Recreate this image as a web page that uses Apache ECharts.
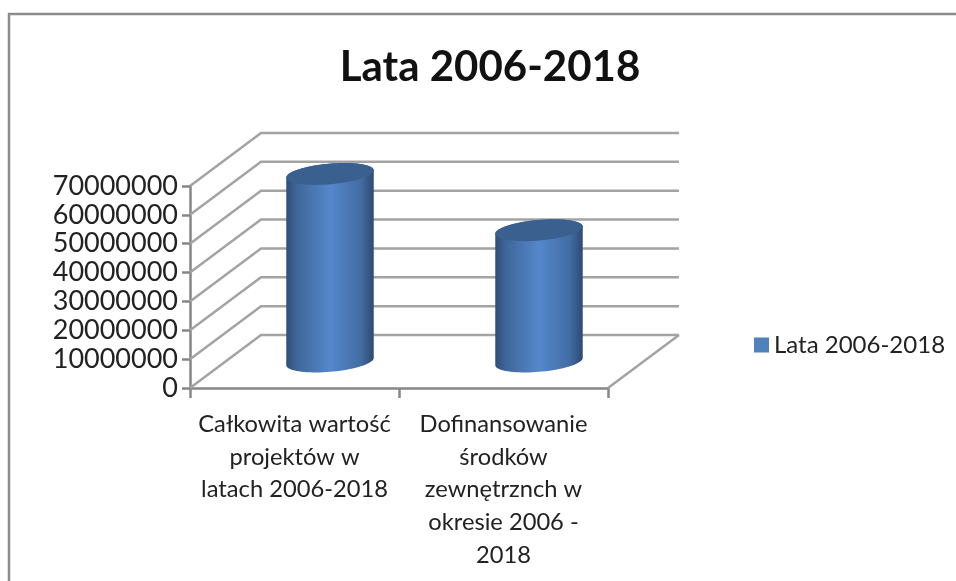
<!DOCTYPE html>
<html>
<head>
<meta charset="utf-8">
<title>Lata 2006-2018</title>
<script src="https://cdn.jsdelivr.net/npm/echarts@6/dist/echarts.min.js"></script>
<style>
html, body { margin: 0; padding: 0; background: #fff; }
#main { width: 956px; height: 581px; }
</style>
</head>
<body>
<div id="main"></div>
<script>
var titleText = 'Lata 2006-2018';
var seriesName = 'Lata 2006-2018';
var categories = [
    'Całkowita wartość\nprojektów w\nlatach 2006-2018',
    'Dofinansowanie\nśrodków\nzewnętrznch w\nokresie 2006 -\n2018'
];
var values = [65000000, 45500000];
var yTicks = [0, 10000000, 20000000, 30000000, 40000000, 50000000, 60000000, 70000000];

var fontName = 'Lato';
var depthX = 71, depthY = 53; // przesuniecie tylnej sciany
var gridColor = '#a3a3a3', axisColor = '#868686';

var myChart = echarts.init(document.getElementById('main'));

// punkty elipsy pochylonej o kat rot
function ellipsePoint(cx, cy, a, b, rot, t) {
    var ex = a * Math.cos(t), ey = b * Math.sin(t);
    return [cx + ex * Math.cos(rot) - ey * Math.sin(rot), cy + ex * Math.sin(rot) + ey * Math.cos(rot)];
}

function renderCylinder(params, api) {
    var top = api.coord([api.value(0), api.value(1)]);
    var bottom = api.coord([api.value(0), 0]);
    var size = api.size([1, 0])[0];
    var a = size * 0.21, b = 10.3, rot = -5 * Math.PI / 180;
    var cx = top[0] + depthX / 2;
    var topY = top[1] - depthY / 2, botY = bottom[1] - depthY / 2;
    var t0 = Math.atan2(-b * Math.sin(rot), a * Math.cos(rot));
    var body = [], cap = [], i;
    for (i = 0; i <= 40; i++) {
        body.push(ellipsePoint(cx, botY, a, b, rot, t0 + Math.PI * i / 40));
    }
    for (i = 0; i <= 40; i++) {
        body.push(ellipsePoint(cx, topY, a, b, rot, t0 + Math.PI + Math.PI * i / 40));
    }
    for (i = 0; i < 72; i++) {
        cap.push(ellipsePoint(cx, topY, a, b, rot, Math.PI * 2 * i / 72));
    }
    return {
        type: 'group',
        children: [{
            type: 'polygon',
            shape: { points: body },
            style: {
                fill: new echarts.graphic.LinearGradient(0, 0, 1, 0, [
                    { offset: 0, color: '#2f4d78' },
                    { offset: 0.12, color: '#3f6699' },
                    { offset: 0.5, color: '#5587cb' },
                    { offset: 0.85, color: '#426da4' },
                    { offset: 1, color: '#2e4a72' }
                ])
            }
        }, {
            type: 'polygon',
            shape: { points: cap },
            style: { fill: '#3a608f' }
        }]
    };
}

// skos na lewej scianie i linia na tylnej scianie dla kazdej wartosci
function renderWallLine(params, api) {
    var p = api.coord([0, api.value(1)]);
    var x0 = params.coordSys.x;
    var x1 = x0 + params.coordSys.width;
    var lines = [{
        type: 'polyline',
        shape: { points: [[x0, p[1]], [x0 + depthX, p[1] - depthY], [x1 + depthX, p[1] - depthY]] },
        style: { fill: null, stroke: gridColor, lineWidth: 2.5 }
    }];
    if (api.value(1) === 0) {
        lines.push({
            type: 'line',
            shape: { x1: x1, y1: p[1], x2: x1 + depthX, y2: p[1] - depthY },
            style: { stroke: gridColor, lineWidth: 2.5 }
        });
    }
    return { type: 'group', children: lines };
}

var option = {
    animation: false,
    title: {
        text: titleText,
        left: 485,
        top: 41,
        textAlign: 'center',
        textStyle: { fontFamily: fontName, fontSize: 42, fontWeight: 'bold', color: '#111' }
    },
    legend: {
        left: 749,
        top: 328,
        icon: 'rect',
        itemWidth: 15,
        itemHeight: 15,
        itemGap: 8,
        data: [seriesName],
        textStyle: { fontFamily: fontName, fontSize: 24, color: '#222' }
    },
    grid: { left: 190, top: 186, width: 418, height: 202 },
    xAxis: {
        type: 'category',
        data: categories,
        axisLine: { show: true, lineStyle: { color: axisColor, width: 2.5 } },
        axisTick: { show: true, alignWithLabel: false, length: 10, lineStyle: { color: axisColor, width: 2.5 } },
        axisLabel: {
            interval: 0,
            margin: 20,
            fontFamily: fontName,
            fontSize: 23.7,
            lineHeight: 32.7,
            color: '#222'
        }
    },
    yAxis: {
        type: 'value',
        min: 0,
        max: 70000000,
        interval: 10000000,
        axisLine: { show: true, lineStyle: { color: axisColor, width: 2.5 } },
        axisTick: { show: true, length: 8, lineStyle: { color: axisColor, width: 2.5 } },
        axisLabel: {
            margin: 12,
            padding: [5, 0, 0, 0],
            fontFamily: fontName,
            fontSize: 27,
            color: '#222',
            formatter: function (v) { return String(v); }
        },
        splitLine: { show: false }
    },
    series: [{
        type: 'custom',
        z: 1,
        silent: true,
        renderItem: renderWallLine,
        encode: { x: 0, y: 1 },
        data: yTicks.map(function (v) { return [0, v]; })
    }, {
        name: seriesName,
        type: 'custom',
        z: 5,
        itemStyle: { color: '#4f81bd' },
        renderItem: renderCylinder,
        encode: { x: 0, y: 1 },
        data: values.map(function (v, i) { return [i, v]; })
    }],
    graphic: [{
        type: 'polyline',
        silent: true,
        shape: { points: [[9, 581], [9, 14], [956, 14]] },
        style: { fill: null, stroke: '#8c8c8c', lineWidth: 2.5 }
    }]
};

myChart.setOption(option);
</script>
</body>
</html>
